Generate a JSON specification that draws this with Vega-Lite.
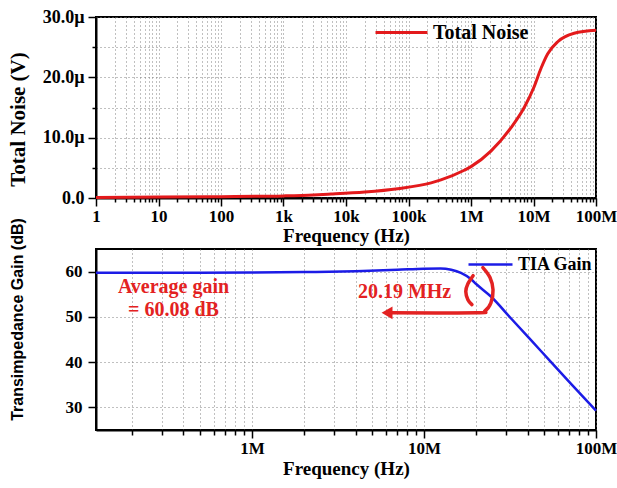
{
  "$schema": "https://vega.github.io/schema/vega-lite/v6.json",
  "background": "white",
  "padding": {"left": 5, "top": 4, "right": 0, "bottom": 5},
  "spacing": 51,
  "bounds": "flush",
  "config": {
    "view": {"stroke": "black", "strokeWidth": 2},
    "axis": {
      "domainColor": "black",
      "domainWidth": 2,
      "tickColor": "black",
      "tickWidth": 1.5,
      "labelColor": "black",
      "titleColor": "black",
      "labelFont": "Liberation Serif",
      "labelFontWeight": "bold",
      "labelFontSize": 17,
      "titleFont": "Liberation Serif",
      "titleFontWeight": "bold",
      "gridColor": "#808080",
      "gridDash": [1, 3],
      "gridWidth": 1,
      "labelOverlap": false,
      "labelFlush": false
    }
  },
  "resolve": {"scale": {"color": "independent"}, "legend": {"color": "independent"}},
  "vconcat": [
    {
      "width": 500,
      "height": 181,
      "data": {
        "values": [
          {"f": 1, "noise": 0.1, "series": "Total Noise"},
          {"f": 10, "noise": 0.15, "series": "Total Noise"},
          {"f": 100, "noise": 0.22, "series": "Total Noise"},
          {"f": 1000, "noise": 0.35, "series": "Total Noise"},
          {"f": 3000, "noise": 0.5, "series": "Total Noise"},
          {"f": 5750, "noise": 0.65, "series": "Total Noise"},
          {"f": 20000, "noise": 1.0, "series": "Total Noise"},
          {"f": 67000, "noise": 1.55, "series": "Total Noise"},
          {"f": 230000, "noise": 2.5, "series": "Total Noise"},
          {"f": 330000, "noise": 3.0, "series": "Total Noise"},
          {"f": 780000, "noise": 4.6, "series": "Total Noise"},
          {"f": 1000000, "noise": 5.2, "series": "Total Noise"},
          {"f": 2100000, "noise": 7.8, "series": "Total Noise"},
          {"f": 4400000, "noise": 11.7, "series": "Total Noise"},
          {"f": 7100000, "noise": 15.0, "series": "Total Noise"},
          {"f": 10200000, "noise": 18.4, "series": "Total Noise"},
          {"f": 13200000, "noise": 21.5, "series": "Total Noise"},
          {"f": 16900000, "noise": 23.9, "series": "Total Noise"},
          {"f": 24400000, "noise": 25.9, "series": "Total Noise"},
          {"f": 44700000, "noise": 27.3, "series": "Total Noise"},
          {"f": 100000000, "noise": 27.8, "series": "Total Noise"}
        ]
      },
      "mark": {"type": "line", "interpolate": "monotone", "strokeWidth": 3},
      "encoding": {
        "x": {
          "field": "f",
          "type": "quantitative",
          "scale": {"type": "log", "domain": [1, 100000000], "nice": false},
          "axis": {
            "title": "Frequency (Hz)",
            "titleFontSize": 19,
            "titlePadding": 2,
            "labelPadding": 2,
            "grid": true,
            "values": [1, 2, 3, 4, 5, 6, 7, 8, 9,
              10, 20, 30, 40, 50, 60, 70, 80, 90,
              100, 200, 300, 400, 500, 600, 700, 800, 900,
              1000, 2000, 3000, 4000, 5000, 6000, 7000, 8000, 9000,
              10000, 20000, 30000, 40000, 50000, 60000, 70000, 80000, 90000,
              100000, 200000, 300000, 400000, 500000, 600000, 700000, 800000, 900000,
              1000000, 2000000, 3000000, 4000000, 5000000, 6000000, 7000000, 8000000, 9000000,
              10000000, 20000000, 30000000, 40000000, 50000000, 60000000, 70000000, 80000000, 90000000,
              100000000],
            "labelExpr": "datum.value == 1 ? '1' : datum.value == 10 ? '10' : datum.value == 100 ? '100' : datum.value == 1000 ? '1k' : datum.value == 10000 ? '10k' : datum.value == 100000 ? '100k' : datum.value == 1000000 ? '1M' : datum.value == 10000000 ? '10M' : datum.value == 100000000 ? '100M' : ''",
            "tickSize": {"condition": {"test": "abs(log(datum.value) / LN10 - round(log(datum.value) / LN10)) < 0.001", "value": 8}, "value": 4}
          }
        },
        "y": {
          "field": "noise",
          "type": "quantitative",
          "scale": {"domain": [0, 30], "nice": false, "zero": false},
          "axis": {
            "title": "Total Noise (V)",
            "titleFontSize": 21,
            "titleBaseline": "middle",
            "titleX": -78,
            "titleY": 102,
            "labelFontSize": 18,
            "labelPadding": 4,
            "grid": true,
            "values": [0, 5, 10, 15, 20, 25, 30],
            "labelExpr": "datum.value % 10 != 0 ? '' : (datum.value == 0 ? '0.0' : format(datum.value, '.1f') + 'µ')",
            "tickSize": {"condition": {"test": "datum.value % 10 == 0", "value": 8}, "value": 4}
          }
        },
        "color": {
          "field": "series",
          "type": "nominal",
          "scale": {"range": ["#e31a1c"]},
          "legend": {
            "orient": "none",
            "legendX": 278,
            "legendY": -12,
            "title": null,
            "symbolType": "stroke",
            "symbolSize": 2700,
            "symbolStrokeWidth": 3,
            "labelFont": "Liberation Serif",
            "labelFontWeight": "bold",
            "labelFontSize": 20,
            "labelColor": "black",
            "labelOffset": 4
          }
        }
      }
    },
    {
      "width": 500,
      "height": 181,
      "layer": [
        {
          "data": {
            "values": [
              {"f": 124000, "gain": 59.75, "series": "TIA Gain"},
              {"f": 300000, "gain": 59.75, "series": "TIA Gain"},
              {"f": 1000000, "gain": 59.8, "series": "TIA Gain"},
              {"f": 2000000, "gain": 59.9, "series": "TIA Gain"},
              {"f": 4000000, "gain": 60.1, "series": "TIA Gain"},
              {"f": 7000000, "gain": 60.4, "series": "TIA Gain"},
              {"f": 10000000, "gain": 60.65, "series": "TIA Gain"},
              {"f": 12500000, "gain": 60.7, "series": "TIA Gain"},
              {"f": 14400000, "gain": 60.4, "series": "TIA Gain"},
              {"f": 16400000, "gain": 59.7, "series": "TIA Gain"},
              {"f": 18800000, "gain": 58.3, "series": "TIA Gain"},
              {"f": 20190000, "gain": 57.2, "series": "TIA Gain"},
              {"f": 24500000, "gain": 54.5, "series": "TIA Gain"},
              {"f": 32000000, "gain": 49.7, "series": "TIA Gain"},
              {"f": 48000000, "gain": 42.4, "series": "TIA Gain"},
              {"f": 71600000, "gain": 35.2, "series": "TIA Gain"},
              {"f": 100000000, "gain": 29.3, "series": "TIA Gain"}
            ]
          },
          "mark": {"type": "line", "interpolate": "monotone", "strokeWidth": 2.5},
          "encoding": {
            "x": {
              "field": "f",
              "type": "quantitative",
              "scale": {"type": "log", "domain": [124000, 100000000], "nice": false},
              "axis": {
                "title": "Frequency (Hz)",
                "titleFontSize": 19,
                "titlePadding": 3,
                "labelPadding": 2,
                "grid": true,
                "values": [200000, 300000, 400000, 500000, 600000, 700000, 800000, 900000,
                  1000000, 2000000, 3000000, 4000000, 5000000, 6000000, 7000000, 8000000, 9000000,
                  10000000, 20000000, 30000000, 40000000, 50000000, 60000000, 70000000, 80000000, 90000000,
                  100000000],
                "labelExpr": "datum.value == 1000000 ? '1M' : datum.value == 10000000 ? '10M' : datum.value == 100000000 ? '100M' : ''",
                "tickSize": {"condition": {"test": "abs(log(datum.value) / LN10 - round(log(datum.value) / LN10)) < 0.001", "value": 8}, "value": 5}
              }
            },
            "y": {
              "field": "gain",
              "type": "quantitative",
              "scale": {"domain": [25, 65], "nice": false, "zero": false},
              "axis": {
                "title": "Transimpedance Gain (dB)",
                "titleFont": "Liberation Sans",
                "titleFontSize": 16,
                "titleBaseline": "middle",
                "titleX": -79,
                "titleY": 70,
                "labelPadding": 6,
                "grid": true,
                "values": [30, 35, 40, 45, 50, 55, 60],
                "labelExpr": "datum.value % 10 != 0 ? '' : format(datum.value, 'd')",
                "gridOpacity": {"condition": {"test": "datum.value % 10 == 0", "value": 1}, "value": 0},
                "tickSize": {"condition": {"test": "datum.value % 10 == 0", "value": 8}, "value": 5}
              }
            },
            "color": {
              "field": "series",
              "type": "nominal",
              "scale": {"range": ["#1c1ce6"]},
              "legend": {
                "orient": "none",
                "legendX": 371,
                "legendY": -8,
                "title": null,
                "symbolType": "stroke",
                "symbolSize": 1936,
                "symbolStrokeWidth": 2.5,
                "labelFont": "Liberation Serif",
                "labelFontWeight": "bold",
                "labelFontSize": 18,
                "labelColor": "black",
                "labelOffset": 4
              }
            }
          }
        },
        {
          "data": {
            "values": [
              {"f": 350000, "gain": 56.7, "note": "Average gain"},
              {"f": 350000, "gain": 51.6, "note": "= 60.08 dB"},
              {"f": 7710000, "gain": 55.6, "note": "20.19 MHz"}
            ]
          },
          "mark": {"type": "text", "font": "Liberation Serif", "fontWeight": "bold", "fontSize": 20, "color": "#e32222", "align": "center", "baseline": "middle"},
          "encoding": {
            "x": {"field": "f", "type": "quantitative"},
            "y": {"field": "gain", "type": "quantitative"},
            "text": {"field": "note"}
          }
        },
        {
          "data": {
            "values": [
              {"seq": 1, "f": 22000000, "gain": 60.9},
              {"seq": 2, "f": 24200000, "gain": 58.7},
              {"seq": 3, "f": 25200000, "gain": 56.0},
              {"seq": 4, "f": 24500000, "gain": 53.1},
              {"seq": 5, "f": 22600000, "gain": 51.3},
              {"seq": 6, "f": 20300000, "gain": 50.9},
              {"seq": 7, "f": 6430000, "gain": 50.9}
            ]
          },
          "mark": {"type": "line", "interpolate": "cardinal", "strokeWidth": 3.5, "color": "#e32222", "strokeCap": "round"},
          "encoding": {
            "x": {"field": "f", "type": "quantitative"},
            "y": {"field": "gain", "type": "quantitative"},
            "order": {"field": "seq"}
          }
        },
        {
          "data": {
            "values": [
              {"seq": 1, "f": 19300000, "gain": 59.1},
              {"seq": 2, "f": 18000000, "gain": 57.3},
              {"seq": 3, "f": 17500000, "gain": 55.6},
              {"seq": 4, "f": 18000000, "gain": 53.8},
              {"seq": 5, "f": 19000000, "gain": 52.7}
            ]
          },
          "mark": {"type": "line", "interpolate": "cardinal", "strokeWidth": 3.5, "color": "#e32222", "strokeCap": "round"},
          "encoding": {
            "x": {"field": "f", "type": "quantitative"},
            "y": {"field": "gain", "type": "quantitative"},
            "order": {"field": "seq"}
          }
        },
        {
          "data": {"values": [{"f": 6100000, "gain": 50.9}]},
          "mark": {"type": "point", "shape": "triangle-left", "filled": true, "size": 160, "color": "#e32222", "opacity": 1},
          "encoding": {
            "x": {"field": "f", "type": "quantitative"},
            "y": {"field": "gain", "type": "quantitative"}
          }
        }
      ]
    }
  ]
}
